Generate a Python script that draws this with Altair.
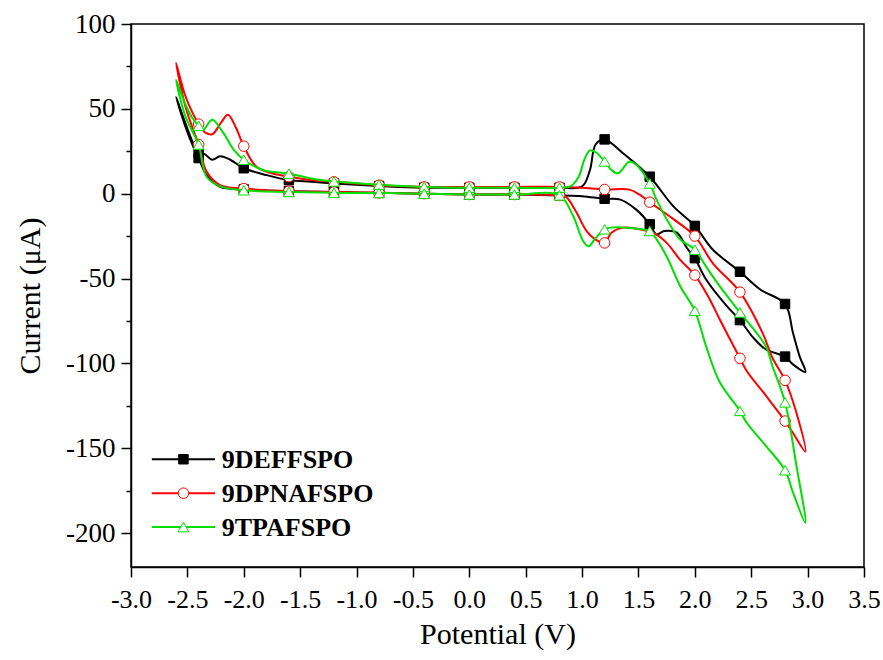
import altair as alt
import pandas as pd

SERIES = ["9DEFFSPO", "9DPNAFSPO", "9TPAFSPO"]
COLORS = ["#000000", "#ff0000", "#00e000"]

# Black loop (9DEFFSPO)
BLACK_X = [-1.2, -0.8, -0.4, 0.0, 0.4, 0.8, 1.0, 1.07, 1.12, 1.2, 1.36, 1.6, 1.81, 2.0, 2.16, 2.4, 2.58, 2.8, 2.87, 2.93, 2.98,
           2.87, 2.8, 2.63, 2.52, 2.4, 2.28, 2.1, 2.0, 1.93, 1.84, 1.73, 1.66, 1.6, 1.48, 1.34, 1.2, 1.0, 0.8,
           0.4, 0.0, -0.4, -0.8, -1.2, -1.6, -2.0, -2.21, -2.33, -2.4, -2.45, -2.52, -2.6,
           -2.52, -2.45, -2.4, -2.35, -2.28, -2.21, -2.12, -2.0, -1.8, -1.6, -1.4, -1.2]
BLACK_Y = [6.0, 4.5, 3.5, 3.5, 3.5, 3.5, 4.3, 14.0, 29.0, 32.0, 24.0, 10.0, -7.5, -19.0, -33.0, -46.0, -56.5, -65.0, -82.0, -96.0, -105.0,
           -100.6, -96.0, -91.8, -85.0, -74.5, -66.0, -50.6, -38.0, -32.0, -23.0, -22.0, -24.0, -18.0, -9.4, -3.5, -3.0, -1.5, -1.0,
           -0.5, -0.5, 0.0, 0.5, 1.0, 1.5, 2.5, 4.0, 11.0, 21.0, 28.0, 40.0, 57.0,
           42.0, 30.0, 24.0, 23.5, 20.0, 22.0, 20.0, 15.0, 11.0, 8.0, 7.0, 6.0]

# Red loop (9DPNAFSPO)
RED_X = [-1.2, -0.8, -0.4, 0.0, 0.4, 0.8, 1.0, 1.2, 1.42, 1.51, 1.6, 1.81, 2.0, 2.16, 2.4, 2.6, 2.69, 2.8, 2.9, 2.98,
         2.87, 2.8, 2.63, 2.46, 2.4, 2.22, 2.13, 2.0, 1.87, 1.75, 1.63, 1.51, 1.36, 1.26, 1.2, 1.12, 1.04, 0.95, 0.86, 0.8,
         0.4, 0.0, -0.4, -0.8, -1.2, -1.6, -2.0, -2.21, -2.33, -2.4, -2.45, -2.52, -2.6,
         -2.52, -2.45, -2.4, -2.34, -2.28, -2.2, -2.14, -2.07, -2.0, -1.89, -1.75, -1.6, -1.4, -1.2]
RED_Y = [7.0, 5.0, 4.0, 4.0, 4.0, 4.0, 3.5, 2.5, 2.4, -0.6, -5.0, -15.0, -25.0, -41.0, -58.0, -82.0, -97.0, -110.0, -129.0, -152.0,
         -141.0, -134.0, -119.0, -104.5, -97.0, -74.0, -62.0, -48.0, -39.0, -29.0, -23.0, -21.0, -20.0, -23.0, -29.0, -27.0, -22.0, -11.0, -2.0, -1.0,
         -0.5, -0.5, 0.0, 0.5, 1.0, 1.5, 3.0, 5.0, 13.0, 29.0, 38.0, 52.0, 77.0,
         58.0, 47.0, 41.0, 36.0, 35.0, 42.0, 46.5, 39.0, 28.0, 16.0, 12.0, 10.0, 8.0, 7.0]

# Green loop (9TPAFSPO)
GREEN_X = [-1.2, -0.8, -0.4, 0.0, 0.4, 0.8, 0.9, 0.97, 1.02, 1.07, 1.13, 1.2, 1.26, 1.32, 1.42, 1.48, 1.6, 1.66, 1.75, 1.87, 2.0, 2.1, 2.22, 2.4, 2.63, 2.69, 2.8, 2.9, 2.98,
           2.87, 2.8, 2.63, 2.46, 2.4, 2.22, 2.1, 2.0, 1.87, 1.75, 1.63, 1.6, 1.39, 1.25, 1.2, 1.11, 1.06, 1.01, 0.92, 0.8,
           0.4, 0.0, -0.4, -0.8, -1.2, -1.6, -2.0, -2.21, -2.33, -2.4, -2.45, -2.52, -2.6,
           -2.52, -2.45, -2.4, -2.36, -2.28, -2.18, -2.09, -2.0, -1.83, -1.6, -1.4, -1.2]
GREEN_Y = [7.2, 5.3, 4.0, 3.5, 3.5, 3.5, 4.5, 10.0, 20.0, 25.5, 24.0, 19.0, 14.0, 12.0, 19.0, 17.0, 6.0, -3.5, -15.0, -27.0, -33.0, -43.0, -54.5, -70.0, -90.0, -102.0, -123.0, -160.0, -194.0,
           -176.0, -163.0, -148.6, -135.0, -128.0, -111.0, -90.0, -69.0, -54.5, -37.0, -24.0, -22.0, -20.0, -20.0, -21.0, -27.0, -31.0, -28.0, -13.0, -1.0,
           -0.5, -0.5, 0.0, 0.4, 0.5, 1.0, 2.0, 4.3, 10.0, 29.0, 36.0, 46.0, 67.0,
           53.0, 44.0, 40.0, 37.6, 43.5, 35.7, 26.0, 20.0, 14.0, 11.8, 9.0, 7.2]

MARKER_STEP_START = -2.4
MARKER_STEP = 0.4


def frame(name, xs, ys):
    df = pd.DataFrame({"x": xs, "y": ys})
    df["order"] = range(len(df))
    df["series"] = name
    k = (df["x"] - MARKER_STEP_START) / MARKER_STEP
    df["marker"] = ((k - k.round()).abs() < 1e-6) & (df["x"] >= -2.41) & (df["x"] <= 2.81)
    df.loc[df.index[-1], "marker"] = False  # closing point duplicates the first
    return df


frames = [frame(SERIES[0], BLACK_X, BLACK_Y),
          frame(SERIES[1], RED_X, RED_Y),
          frame(SERIES[2], GREEN_X, GREEN_Y)]

FONT = "Liberation Serif"

x_scale = alt.Scale(domain=[-3.0, 3.5], nice=False, zero=False)
y_scale = alt.Scale(domain=[-220, 100], nice=False, zero=False)

x_vals = [-3.0 + 0.25 * i for i in range(27)]
y_vals = [-200 + 25 * i for i in range(13)]

x_axis = alt.Axis(
    values=x_vals,
    title="Potential (V)",
    labelExpr="datum.value*2 == round(datum.value*2) ? replace(format(datum.value, '.1f'), '\u2212', '-') : ''",
    labelOverlap=False,
    labelFlush=False,
    tickSize={"condition": {"test": "datum.value*2 != round(datum.value*2)", "value": 5}, "value": 10},
    labelPadding=9,
    titlePadding=7,
    grid=False,
    labelFont=FONT, titleFont=FONT, labelFontSize=26, titleFontSize=30,
)
y_axis = alt.Axis(
    values=y_vals,
    title="Current (\u03bcA)",
    labelExpr="datum.value % 50 == 0 ? replace(format(datum.value, 'd'), '\u2212', '-') : ''",
    labelOverlap=False,
    labelFlush=False,
    tickSize={"condition": {"test": "datum.value % 50 != 0", "value": 5}, "value": 10},
    labelPadding=6,
    titlePadding=20,
    grid=False,
    labelFont=FONT, titleFont=FONT, labelFontSize=27, titleFontSize=30,
)

marker_styles = [
    dict(shape="square", filled=True, fill="#000000", stroke="#000000", size=90, strokeWidth=1),
    dict(shape="circle", filled=True, fill="white", stroke="#ff0000", size=110, strokeWidth=1),
    dict(shape="triangle-up", filled=True, fill="white", stroke="#00e000", size=120, strokeWidth=1),
]

layers = []
for i, df in enumerate(frames):
    base = alt.Chart(df)
    line = base.mark_line(interpolate="catmull-rom", color=COLORS[i], strokeWidth=2).encode(
        x=alt.X("x:Q", scale=x_scale, axis=x_axis),
        y=alt.Y("y:Q", scale=y_scale, axis=y_axis),
        order="order:Q",
    )
    pts = base.transform_filter("datum.marker").mark_point(opacity=1, **marker_styles[i]).encode(
        x="x:Q", y="y:Q"
    )
    layers += [line, pts]

# Legend (drawn inside the plot, lower left)
LEG_Y = [-156.5, -176.5, -196.5]
leg = pd.DataFrame({"series": SERIES, "y": LEG_Y, "x0": -2.815, "x1": -2.255, "xm": -2.535, "xt": -2.195})
for i in range(3):
    row = leg.iloc[[i]]
    lb = alt.Chart(row)
    layers.append(lb.mark_rule(color=COLORS[i], strokeWidth=2).encode(x="x0:Q", x2="x1:Q", y="y:Q"))
    layers.append(lb.mark_point(opacity=1, **marker_styles[i]).encode(x="xm:Q", y="y:Q"))
    layers.append(lb.mark_text(align="left", baseline="middle", font=FONT, fontSize=26, fontWeight="bold",
                               color="black", dy=1).encode(x="xt:Q", y="y:Q", text="series:N"))

chart = alt.layer(*layers).properties(
    width=733,
    height=543,
    autosize=alt.AutoSizeParams(type="none"),
    padding={"left": 131, "top": 24, "right": 19, "bottom": 93},
).configure_view(
    stroke="black", strokeWidth=1.5
).configure_axis(
    labelFont=FONT, titleFont=FONT, titleFontWeight="normal",
    labelColor="black", titleColor="black", domainColor="black", tickColor="black",
    domainWidth=1.5, tickWidth=1.5,
)

chart.save("out.html", embed_options={"renderer": "svg", "actions": False})
